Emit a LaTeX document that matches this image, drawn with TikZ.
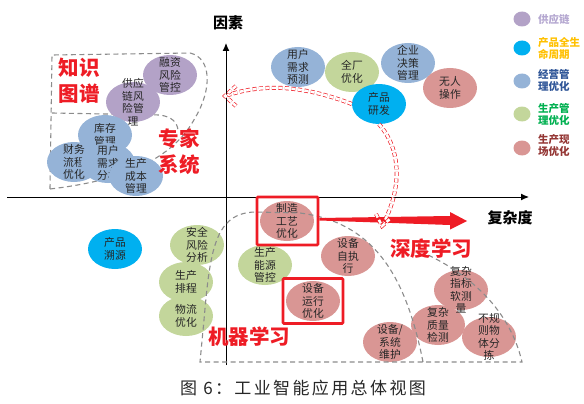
\documentclass[tikz,border=0pt]{standalone}
\usepackage{fontspec}
\setmainfont{Noto Sans CJK SC}
\newfontfamily\capfont[LetterSpace=14]{Noto Sans CJK SC}
\usetikzlibrary{shapes.geometric,arrows.meta}
\definecolor{cPur}{HTML}{B3A2C7}
\definecolor{cBlu}{HTML}{95B3D7}
\definecolor{cGrn}{HTML}{C3D69B}
\definecolor{cPnk}{HTML}{D99694}
\definecolor{cCyn}{HTML}{00B0F0}
\definecolor{cRed}{HTML}{EE1C25}
\definecolor{lPur}{HTML}{B4A7D0}
\definecolor{lOrg}{HTML}{FFC000}
\definecolor{lBlu}{HTML}{2F5597}
\definecolor{lGrn}{HTML}{00B050}
\definecolor{lRed}{HTML}{943634}
\definecolor{cDash}{HTML}{8C8C8C}
\newcommand\bubfill[4]{\node[bub, fill=#4] (#1) at (#2,#3) {};}
\newcommand\bubtext[2]{\node[btxt] (#1-t) at (#1) {#2};}
\newcommand\bubble[5]{\bubfill{#1}{#2}{#3}{#4}\bubtext{#1}{#5}}
\begin{document}
\begin{tikzpicture}[x=1pt,y=-1pt,
  bub/.style={ellipse, minimum width=54pt, minimum height=40pt, inner sep=0pt, draw=none},
  btxt/.style={align=center, font=\fontsize{10.8}{12.5}\selectfont, text=black!85, inner sep=0pt},
  lgd/.style={ellipse, minimum width=17pt, minimum height=15pt, inner sep=0pt, draw=none},
  lgt/.style={anchor=west, align=left, font=\bfseries\fontsize{10.5}{12}\selectfont, inner sep=0pt},
  gdash/.style={draw=cDash, line width=1.1pt, dash pattern=on 5pt off 3.5pt},
  rdd/.style={draw=cRed, line width=0.7pt, double=white, double distance=2.6pt, dash pattern=on 4pt off 2.5pt},
  redbox/.style={draw=cRed, line width=2.6pt, rounded corners=1pt, minimum width=61pt, minimum height=48pt, inner sep=0pt},
  big/.style={text=cRed, font=\bfseries\fontsize{20.5}{26}\selectfont, align=center, inner sep=0pt},
  axl/.style={font=\bfseries\fontsize{15}{18}\selectfont, inner sep=0pt},
  axis/.style={draw=black, line width=1pt}]
\useasboundingbox (0,0) rectangle (584,404);
% left-top dashed region (behind bubbles)
\draw[gdash] (50,189) -- (52,55) -- (190,53) .. controls (212,58) and (212,90) .. (195,118) .. controls (170,165) and (110,182) .. (50,189);
\draw[gdash] (52,113) -- (160,115) .. controls (172,117) and (177,122) .. (178,130);
% axes
\coordinate (yb) at (226,365);
\coordinate (yt) at (226,43);
\coordinate (xl) at (7,197);
\coordinate (xr) at (529,197);
\draw[axis,-{Latex[length=8pt,width=7pt]}] (yb) -- (yt);
\draw[axis,-{Latex[length=8pt,width=7pt]}] (xl) -- (xr);
\node[axl] (yl) at (228,23) {因素};
\node[axl] (xlab) at (510,218) {复杂度};
% top-left cluster
\bubble{rz}{170}{75}{cPur}{融资\\风险\\管控}
\bubble{gy}{133}{102}{cPur}{供应\\链风\\险管\\理}
\bubble{cw}{74}{162}{cBlu}{财务\\流程\\优化}
\bubble{kc}{105}{135}{cBlu}{库存\\管理}
\bubble{yh}{108}{163}{cBlu}{用户\\需求\\分析}
\bubble{cb}{136}{176}{cBlu}{生产\\成本\\管理}
\node[big] (zs) at (79,81) {知识\\图谱};
\node[big] (zj) at (179,152) {专家\\系统};
% top-right cluster
\bubble{yc}{298}{67}{cBlu}{用户\\需求\\预测}
\bubble{qy}{408}{63}{cBlu}{企业\\决策\\管理}
\bubble{qc}{352}{72}{cGrn}{全厂\\优化}
\bubble{cp}{379}{104}{cCyn}{产品\\研发}
\bubble{wr}{450}{88}{cPnk}{无人\\操作}
% lower-left
\bubble{sy}{115}{249}{cCyn}{产品\\溯源}
\bubble{aq}{197}{245}{cGrn}{安全\\风险\\分析}
\bubble{pc}{186}{282}{cGrn}{生产\\排程}
\bubble{wl}{186}{316}{cGrn}{物流\\优化}
% lower-right
\bubble{zz}{287}{221}{cPnk}{制造\\工艺\\优化}
\bubble{ny}{265}{265}{cGrn}{生产\\能源\\管控}
\bubble{zx}{348}{256}{cPnk}{设备\\自执\\行}
\bubble{yx}{313}{301}{cPnk}{设备\\运行\\优化}
\bubfill{wh}{390}{342}{cPnk}
\bubfill{zl}{438}{325}{cPnk}
\bubfill{bg}{489}{337}{cPnk}
\bubfill{zb}{461}{290}{cPnk}
\bubtext{wh}{设备/\\系统\\维护}
\bubtext{zl}{复杂\\质量\\检测}
\bubtext{bg}{不规\\则物\\体分\\拣}
\bubtext{zb}{复杂\\指标\\软测\\量}
% lower dashed regions
\draw[gdash] (423,362) .. controls (405,270) and (370,222) .. (300,213) -- (255,212) .. controls (215,213) and (210,250) .. (204,320) -- (200,362) -- (522,362) .. controls (510,310) and (470,275) .. (428,255);
% red boxes
\node[redbox] (b1) at (287.5,221) {};
\node[redbox, minimum width=60pt, minimum height=45pt] (b2) at (313,301) {};
% red arrow
\fill[cRed] (b1.east |- 0,218) -- (450,216) -- (450,212) -- (467,221) -- (450,229.5) -- (450,225) -- (b1.east |- 0,220.5) -- cycle;
\coordinate (ah) at (225,96);
\coordinate (dh) at (382,226);
% red double dashed arrows
\draw[rdd] (cp.west) .. controls (300,84) and (260,84) .. (ah);
\draw[rdd] (236,86) -- (ah) -- (236,106);
\draw[rdd] (cp.south) .. controls (402,150) and (402,190) .. (dh);
\draw[rdd] (376,214) -- (dh) -- (391,218);
\node[big] (sd) at (431,249) {深度学习};
\node[big] (jq) at (249,337) {机器学习};
% legend
\node[lgd, fill=cPur] (l1) at (522,19) {};
\node[lgd, fill=cCyn] (l2) at (522,48) {};
\node[lgd, fill=cBlu] (l3) at (522,81) {};
\node[lgd, fill=cGrn] (l4) at (522,114) {};
\node[lgd, fill=cPnk] (l5) at (522,148) {};
\node[lgt, text=lPur] (t1) at (538,19) {供应链};
\node[lgt, text=lOrg] (t2) at (538,48) {产品全生\\命周期};
\node[lgt, text=lBlu] (t3) at (538,80) {经营管\\理优化};
\node[lgt, text=lGrn] (t4) at (538,114) {生产管\\理优化};
\node[lgt, text=lRed] (t5) at (538,145) {生产现\\场优化};
% caption
\node[inner sep=0pt, font=\capfont\fontsize{17}{19}\selectfont, text=black!85] (cap) at (303,388) {图 6：工业智能应用总体视图};
\end{tikzpicture}
\end{document}
